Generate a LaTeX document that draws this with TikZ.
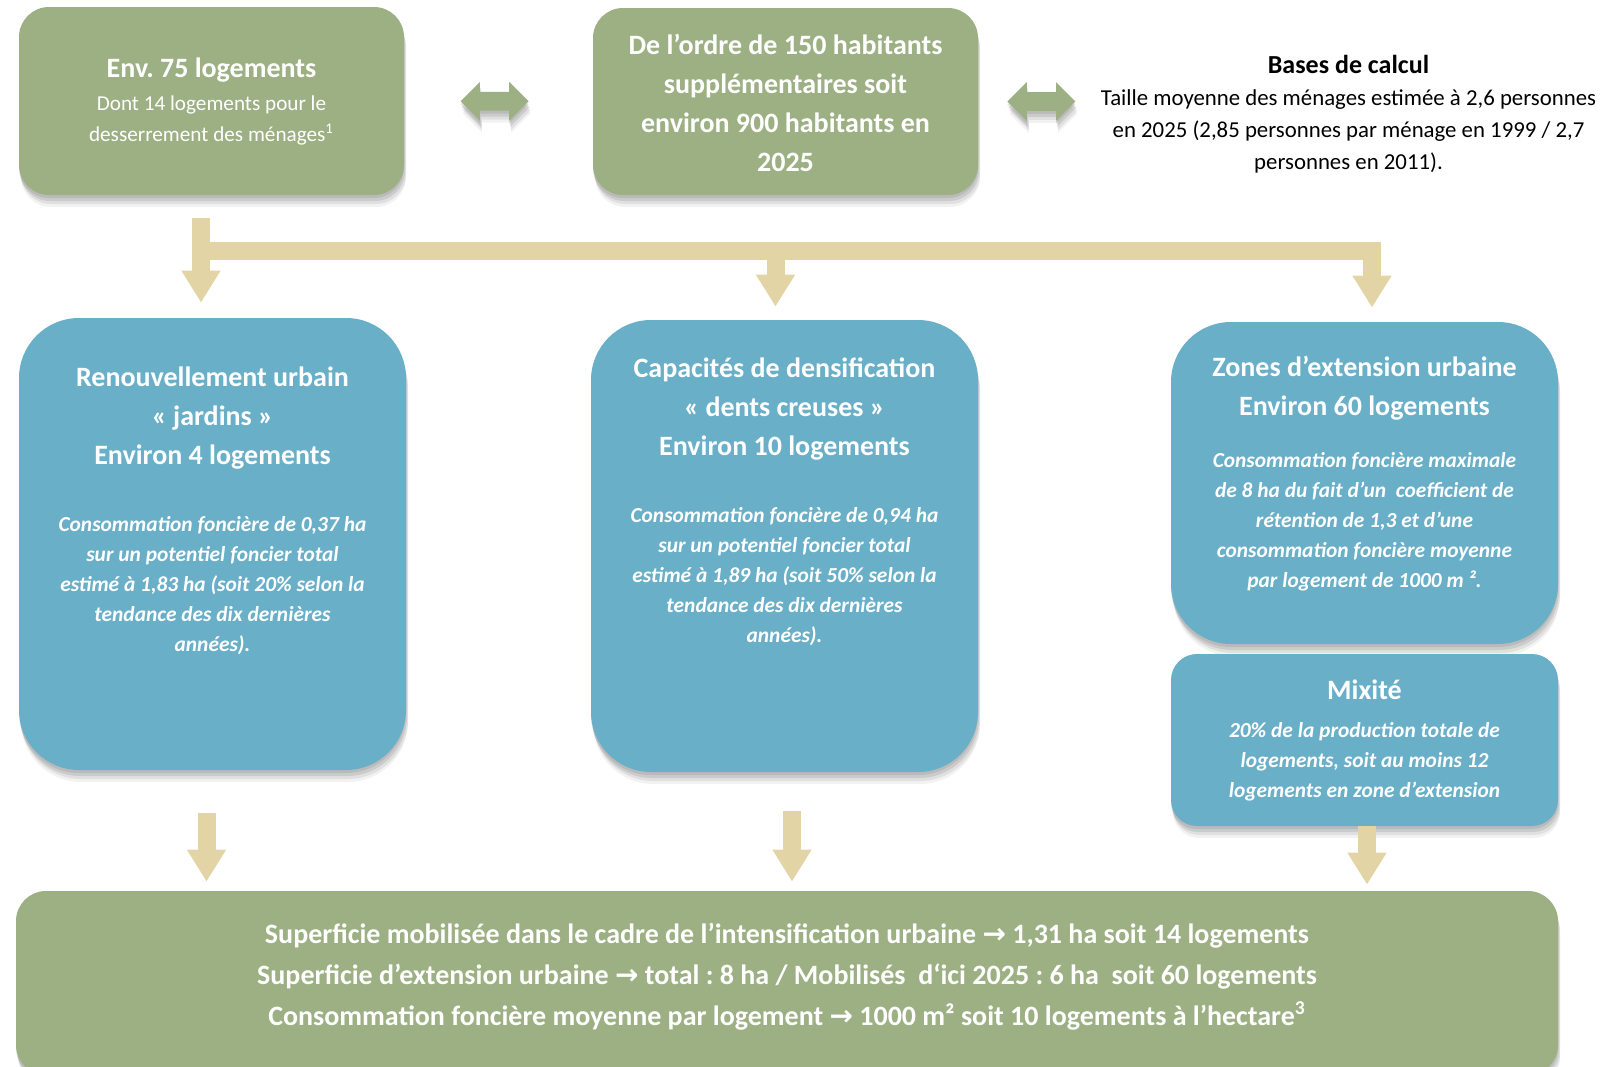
\documentclass[tikz,border=0pt]{standalone}
\usepackage{fontspec}
\setmainfont{Carlito}
\newfontfamily\arrowfont{DejaVu Sans}
\usetikzlibrary{calc}
\usetikzlibrary{arrows.meta}
\usetikzlibrary{shapes.arrows}
\usetikzlibrary{shadows}

\definecolor{sage}{HTML}{9DB084}
\definecolor{lagoon}{HTML}{6AAFC8}
\definecolor{straw}{HTML}{E2D4A4}

\frenchspacing
\newcommand{\fleche}{{\arrowfont\bfseries →}}

\tikzset{
  ombre/.style={drop shadow={shadow xshift=0pt, shadow yshift=-1.5pt, opacity=0.22},
    drop shadow={shadow xshift=0.5pt, shadow yshift=-3pt, opacity=0.22},
    drop shadow={shadow xshift=1pt, shadow yshift=-4.5pt, opacity=0.16},
    drop shadow={shadow xshift=1pt, shadow yshift=-6pt, opacity=0.1}},
  boite/.style={inner sep=0pt, ombre},
  vert/.style={boite, fill=sage, rounded corners=15pt},
  bleu/.style={boite, fill=lagoon, rounded corners=30pt},
  titre/.style={text=white, align=center, anchor=base, inner sep=0pt, font=\fontsize{14}{19.5}\selectfont\bfseries},
  corps/.style={text=white, align=center, anchor=base, inner sep=0pt, font=\fontsize{10.7}{15}\selectfont\bfseries\itshape},
  flux/.style={draw=straw, line width=9pt, -{Triangle[length=16pt,width=18.5pt]}},
  dfleche/.style={double arrow, fill=sage, minimum height=34pt, inner sep=4.5pt,
    double arrow head extend=5pt, ombre}
}

\begin{document}
\begin{tikzpicture}[x=0.5pt, y=-0.5pt]
\useasboundingbox (0,0) rectangle (1623,1066);

% boites du haut (base = derniere ligne)
\node[vert, minimum width=192.5pt, minimum height=94pt] (A) at (211.5,101) {};
\node[vert, minimum width=192.5pt, minimum height=93.5pt] (B) at (785.5,101.5) {};
\node[titre] (tA) at ($(A.north)+(0,71)$) {Env. 75 logements};
\node[titre, font=\fontsize{10.6}{15.5}\selectfont] (bA) at ($(A.north)+(0,134.5)$)
  {Dont 14 logements pour le\\desserrement des ménages\textsuperscript{1}};
\node[titre] (tB) at ($(B.north)+(0,163.5)$)
  {De l’ordre de 150 habitants\\supplémentaires soit\\environ 900 habitants en\\2025};

\node[dfleche] (AB) at ($(A.east)!0.5!(B.west)+(-4,0)$) {};
\node[dfleche] (BE) at ($(B.east)+(63,0)$) {};

\node[titre, text=black, font=\fontsize{13}{19}\selectfont\bfseries] (tE) at (1348.5,73) {Bases de calcul};
\node[titre, text=black, font=\fontsize{11.4}{16}\selectfont] (bE) at (1348.5,169.5)
  {Taille moyenne des ménages estimée à 2,6 personnes\\en 2025 (2,85 personnes par ménage en 1999 / 2,7\\personnes en 2011).};

% boites bleues
\node[bleu, minimum width=193.5pt, minimum height=226pt] (C1) at (212.5,544) {};
\node[bleu, minimum width=193.5pt, minimum height=226pt] (C2) at (784.5,546) {};
\node[bleu, minimum width=193.5pt, minimum height=161pt] (C3) at (1364.5,483) {};
\node[bleu, rounded corners=13pt, minimum width=193.5pt, minimum height=86pt] (M) at (1364.5,740) {};

\node[titre] (t1) at ($(C1.north)+(0,147)$) {Renouvellement urbain\\« jardins »\\Environ 4 logements};
\node[corps] (b1) at ($(C1.north)+(0,334)$)
  {Consommation foncière de 0,37 ha\\sur un potentiel foncier total\\estimé à 1,83 ha (soit 20\% selon la\\tendance des dix dernières\\années).};
\node[titre] (t2) at ($(C2.north)+(0,135.5)$) {Capacités de densification\\« dents creuses »\\Environ 10 logements};
\node[corps] (b2) at ($(C2.north)+(0,322.5)$)
  {Consommation foncière de 0,94 ha\\sur un potentiel foncier total\\estimé à 1,89 ha (soit 50\% selon la\\tendance des dix dernières\\années).};
\node[titre] (t3) at ($(C3.north)+(0,93.5)$) {Zones d’extension urbaine\\Environ 60 logements};
\node[corps] (b3) at ($(C3.north)+(0,265.5)$)
  {Consommation foncière maximale\\de 8 ha du fait d’un\ \ coefficient de\\rétention de 1,3 et d’une\\consommation foncière moyenne\\par logement de 1000 m ².};
\node[titre] (tM) at ($(M.north)+(0,46)$) {Mixité};
\node[corps] (bM) at ($(M.north)+(0,143.7)$)
  {20\% de la production totale de\\logements, soit au moins 12\\logements en zone d’extension};

% boite du bas
\node[vert, minimum width=771pt, minimum height=92pt] (D) at (787,983) {};
\node[titre, font=\fontsize{14}{20.5}\selectfont\bfseries] (tD) at ($(D.north)+(0,134.6)$)
  {Superficie mobilisée dans le cadre de l’intensification urbaine \fleche{} 1,31 ha soit 14 logements\\
   Superficie d’extension urbaine \fleche{} total : 8 ha / Mobilisés\ \ d‘ici 2025 : 6 ha\ \ soit 60 logements\\
   Consommation foncière moyenne par logement \fleche{} 1000 m² soit 10 logements à l’hectare\textsuperscript{3}};

% fleches
\draw[flux] ($(A.south)+(-10.5,23)$) -- ($(C1.north)+(-11.5,-15)$);
\draw[flux] ($(A.south)+(-10.5,55.5)$) -| ($(C3.north)+(7.5,-14)$);
\draw[flux] ($(B.south)+(-10,55.5)$) -- ($(C2.north)+(-9,-13)$);

\foreach \b/\dx/\dy/\dz in {C1/-6/42.5/-9, C2/7.5/38.5/-9, M/2.5/0/-6}
  \draw[flux] ($(\b.south)+(\dx,\dy)$) -- ($(\b.south |- D.north)+(\dx,\dz)$);

\end{tikzpicture}
\end{document}
